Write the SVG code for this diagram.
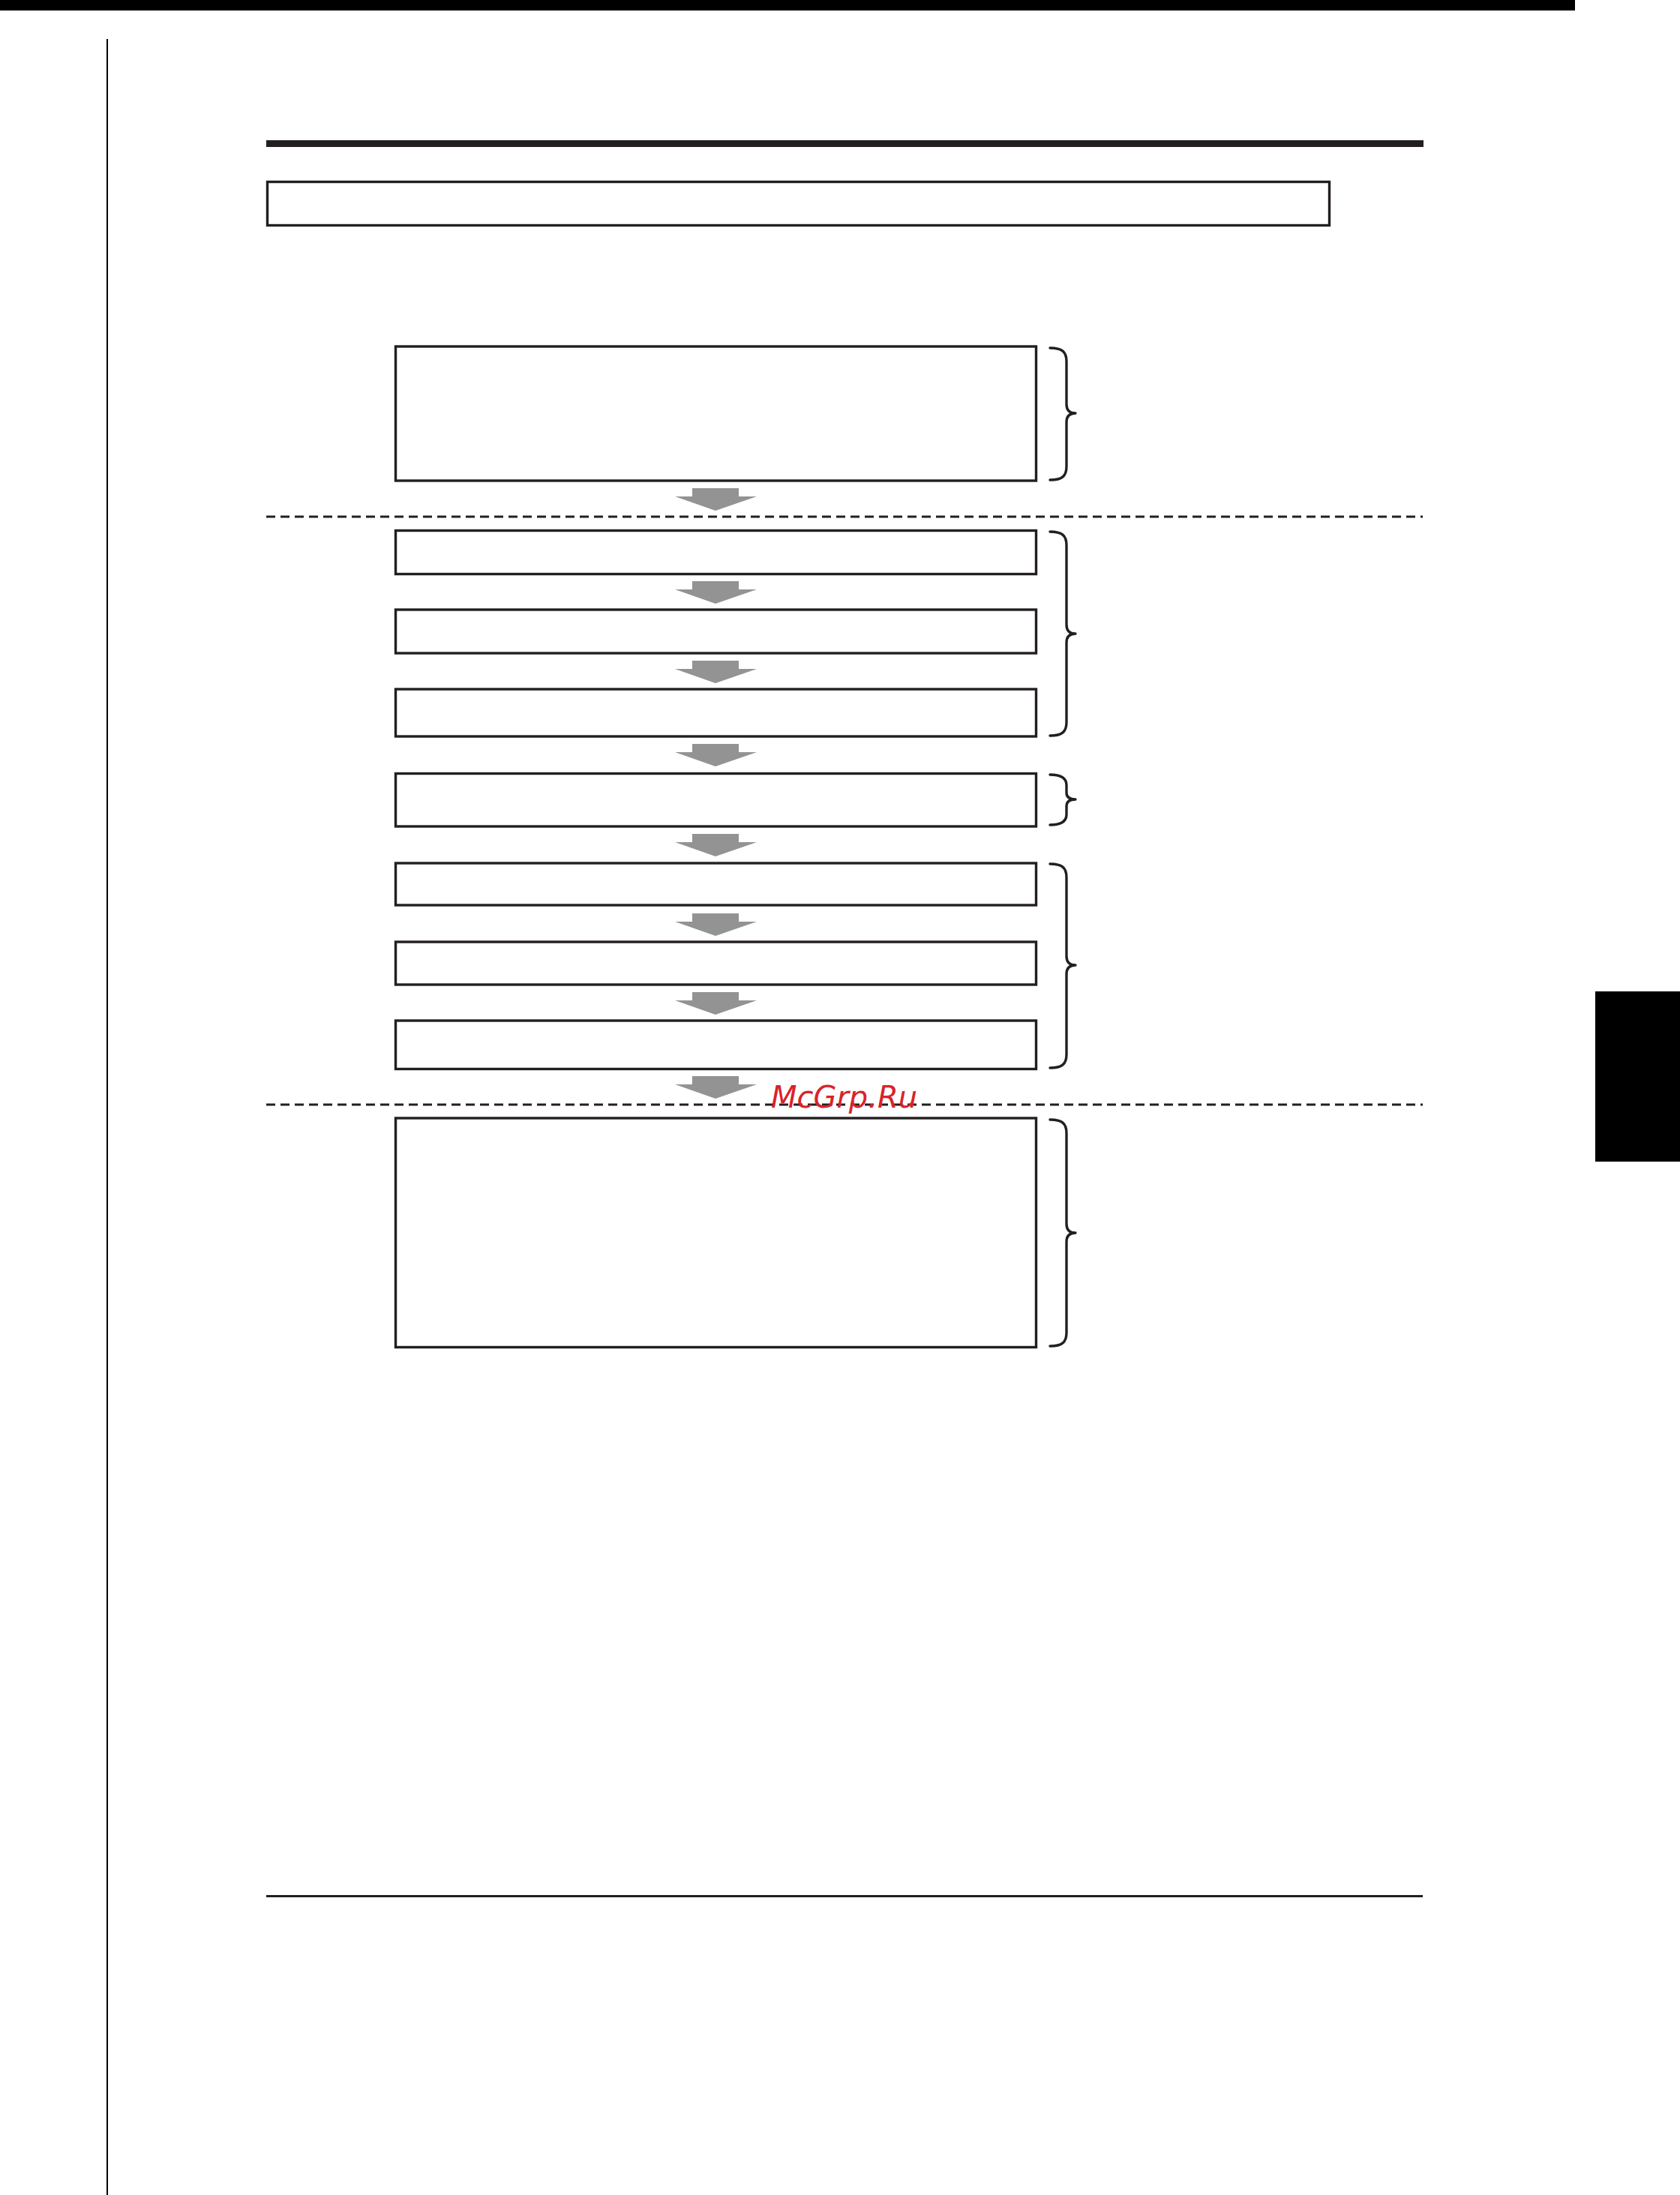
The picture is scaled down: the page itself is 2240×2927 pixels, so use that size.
<svg xmlns="http://www.w3.org/2000/svg" width="2240" height="2927" viewBox="0 0 2240 2927">
<style>
.box{fill:#fff;stroke:#231f20;stroke-width:3.4}
.brace{fill:none;stroke:#231f20;stroke-width:3.4;stroke-linecap:round;stroke-linejoin:round}
.arrow{fill:#939393}
.dash{stroke:#231f20;stroke-width:2.8;stroke-dasharray:12 7}
.wm{font-family:"DejaVu Sans","Open Sans",sans-serif;font-style:italic;font-size:41px;fill:#d9232a}
</style>
<rect width="2240" height="2927" fill="#fff"/>
<g id="page-frame">
<rect x="0" y="0" width="2100" height="14" fill="#000"/>
<rect x="142" y="52" width="2" height="2875" fill="#000"/>
<rect x="355" y="187" width="1543" height="9" fill="#231f20"/>
<rect x="355" y="2527" width="1542" height="3" fill="#231f20"/>
<rect x="2127" y="1322" width="113" height="227" fill="#000"/>
</g>
<g id="title-box"><rect class="box" x="356.5" y="242.5" width="1416" height="58"/></g>
<g id="separators">
<line class="dash" x1="355" y1="689" x2="1897" y2="689"/>
<line class="dash" x1="355" y1="1473" x2="1897" y2="1473"/>
</g>
<g id="node1"><rect class="box" x="527.5" y="462" width="854" height="179"/></g>
<g id="node2"><rect class="box" x="527.5" y="707.5" width="854" height="58"/></g>
<g id="node3"><rect class="box" x="527.5" y="813" width="854" height="58"/></g>
<g id="node4"><rect class="box" x="527.5" y="919" width="854" height="63"/></g>
<g id="node5"><rect class="box" x="527.5" y="1031.5" width="854" height="70.5"/></g>
<g id="node6"><rect class="box" x="527.5" y="1151" width="854" height="56"/></g>
<g id="node7"><rect class="box" x="527.5" y="1256" width="854" height="57"/></g>
<g id="node8"><rect class="box" x="527.5" y="1361" width="854" height="64.5"/></g>
<g id="node9"><rect class="box" x="527.5" y="1491" width="854" height="305.5"/></g>
<g id="braces">
<path class="brace" d="M1400 464 C1416 464 1422 469 1422 482 L1422 539 C1422 547 1426 551 1434 551 C1426 551 1422 555 1422 563 L1422 622 C1422 635 1416 640 1400 640"/>
<path class="brace" d="M1400 709 C1416 709 1422 714 1422 727 L1422 833 C1422 841 1426 845 1434 845 C1426 845 1422 849 1422 857 L1422 963 C1422 976 1416 981 1400 981"/>
<path class="brace" d="M1400 1033 C1414 1033 1422 1037 1422 1047 L1422 1057 C1422 1063 1426 1066 1434 1066 C1426 1066 1422 1069 1422 1075 L1422 1086 C1422 1096 1414 1100 1400 1100"/>
<path class="brace" d="M1400 1152 C1416 1152 1422 1157 1422 1170 L1422 1275 C1422 1283 1426 1287 1434 1287 C1426 1287 1422 1291 1422 1299 L1422 1406 C1422 1419 1416 1424 1400 1424"/>
<path class="brace" d="M1400 1493 C1416 1493 1422 1498 1422 1511 L1422 1632 C1422 1640 1426 1644 1434 1644 C1426 1644 1422 1648 1422 1656 L1422 1777 C1422 1790 1416 1795 1400 1795"/>
</g>
<g id="connectors">
<polygon class="arrow" points="923,651 985,651 985,662 1009,662 954,681 900,662 923,662"/>
<polygon class="arrow" points="923,775 985,775 985,786 1009,786 954,805 900,786 923,786"/>
<polygon class="arrow" points="923,881 985,881 985,892 1009,892 954,911 900,892 923,892"/>
<polygon class="arrow" points="923,992 985,992 985,1003 1009,1003 954,1022 900,1003 923,1003"/>
<polygon class="arrow" points="923,1112 985,1112 985,1123 1009,1123 954,1142 900,1123 923,1123"/>
<polygon class="arrow" points="923,1218 985,1218 985,1229 1009,1229 954,1248 900,1229 923,1229"/>
<polygon class="arrow" points="923,1323 985,1323 985,1334 1009,1334 954,1353 900,1334 923,1334"/>
<polygon class="arrow" points="923,1435 985,1435 985,1446 1009,1446 954,1465 900,1446 923,1446"/>
</g>
<g id="watermark"><text class="wm" x="1028" y="1477" textLength="195" lengthAdjust="spacingAndGlyphs">McGrp.Ru</text></g>
</svg>
